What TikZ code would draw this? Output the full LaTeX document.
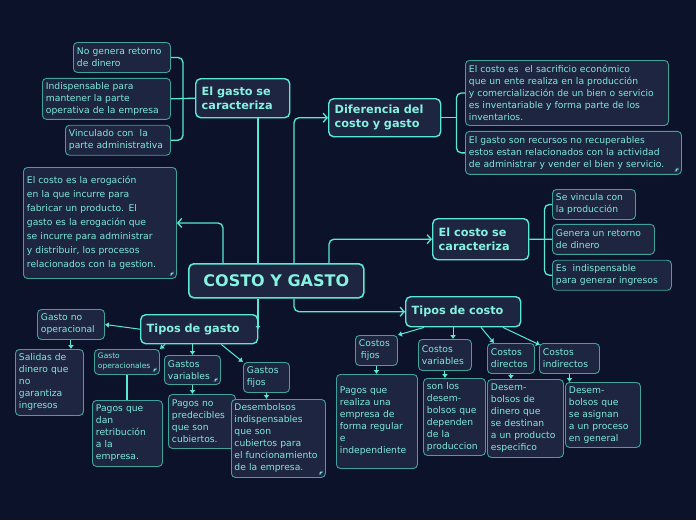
\documentclass[tikz,border=0pt]{standalone}
\usepackage{fontspec}
\setmainfont{DejaVu Sans}
\usetikzlibrary{arrows.meta,positioning,calc}
\definecolor{bgc}{HTML}{0B1229}
\definecolor{nodef}{HTML}{1E2540}
\definecolor{mainb}{HTML}{5CE8D6}
\definecolor{leafb}{HTML}{3FA39C}
\definecolor{txtb}{HTML}{86F2E2}
\definecolor{txt}{HTML}{7FEADC}

\begin{document}
\begin{tikzpicture}[
x=1pt, y=-1pt,
node distance=5pt,
root/.style={
draw=mainb,
line width=1.6pt,
rounded corners=5pt,
fill=nodef,
text=txtb,
font=\fontsize{16}{18}\selectfont\bfseries,
anchor=north west,
minimum width=175pt,
minimum height=34pt
},
topic/.style={
draw=mainb,
line width=1.4pt,
rounded corners=5pt,
fill=nodef,
text=txtb,
font=\fontsize{11.3}{13.8}\selectfont\bfseries,
align=left,
anchor=north west,
inner xsep=6pt
},
leaf/.style={
draw=leafb,
line width=0.9pt,
rounded corners=4pt,
fill=nodef,
text=txt,
font=\fontsize{9.2}{12}\selectfont,
align=left,
anchor=north west,
inner xsep=3.5pt,
inner ysep=2pt
},
grip/.style={
path picture={\fill[txt] ([shift={(-3pt,3pt)}]path picture bounding box.south east)
-- ++(-5pt,0) -- ++(5pt,5pt) -- cycle;}
},
link/.style={draw=mainb, line width=1.3pt, rounded corners=5pt},
arrow/.style={link, -{Straight Barb[length=4pt,width=9pt]}},
subarrow/.style={draw=mainb, line width=1pt, -{Latex[length=4pt,width=6pt]}}
]

\fill[bgc] (0,0) rectangle (696,520);
\useasboundingbox (0,0) rectangle (696,520);

% Centre and main topics
\node[root] (root) at (188,263) {COSTO Y GASTO};

\node[topic, text width=82pt, minimum height=39pt] (gastocar) at (195,78) {El gasto se\\caracteriza};
\node[topic, text width=100pt, minimum height=38pt] (dif) at (328,98) {Diferencia del\\costo y gasto};
\node[topic, text width=84pt, minimum height=41pt] (costocar) at (432,218) {El costo se\\caracteriza};
\node[topic, text width=103pt, minimum height=30pt] (tcosto) at (405,296) {Tipos de costo};
\node[topic, text width=105pt, minimum height=29pt] (tgasto) at (140,314) {Tipos de gasto};

\node[leaf, grip, text width=146pt, minimum height=111pt, font=\fontsize{9.2}{14}\selectfont] (left) at (23,167)
{El costo es la erogación\\en la que incurre para\\fabricar un producto. El\\gasto es la erogación que\\se incurre para administrar\\y distribuir, los procesos\\relacionados con la gestion.};

% El gasto se caracteriza
\node[leaf, text width=90pt, minimum height=30pt] (g1) at (73,42) {No genera retorno\\de dinero};
\node[leaf, text width=121pt, minimum height=41pt, below=of g1.south east, anchor=north east] (g2)
{Indispensable para\\mantener la parte\\operativa de la empresa};
\node[leaf, text width=98pt, minimum height=30pt, below=of g2.south east, anchor=north east] (g3)
{Vinculado con\ \ la\\parte administrativa};

% Diferencia del costo y gasto
\node[leaf, text width=196pt, minimum height=65pt] (d1) at (465,60)
{El costo es\ \ el sacrificio económico\\que un ente realiza en la producción\\y comercialización de un bien o servicio\\es inventariable y forma parte de los\\inventarios.};
\node[leaf, grip, text width=209pt, minimum height=43pt, below=of d1.south west, anchor=north west] (d2)
{El gasto son recursos no recuperables\\estos estan relacionados con la actividad\\de administrar y vender el bien y servicio.};

% El costo se caracteriza
\node[leaf, text width=76pt, minimum height=30pt] (c1) at (552,189) {Se vincula con\\la producción};
\node[leaf, text width=95pt, minimum height=30pt, below=4pt of c1.south west, anchor=north west] (c2)
{Genera un retorno\\de dinero};
\node[leaf, text width=112pt, minimum height=30pt, below=of c2.south west, anchor=north west] (c3)
{Es\ \ indispensable\\para generar ingresos};

% Tipos de gasto
\node[leaf, text width=60pt, minimum height=30pt] (gno) at (37,309) {Gasto no\\operacional};
\node[leaf, text width=61pt, minimum height=66pt] (salidas) at (15,349) {Salidas de\\dinero que\\no\\garantiza\\ingresos};
\node[leaf, grip, text width=58pt, minimum height=25pt, font=\fontsize{7.5}{10}\selectfont] (gop) at (94,349) {Gasto\\operacionales};
\node[leaf, text width=63pt, minimum height=66pt] (pagosdan) at (92,400) {Pagos que\\dan\\retribución\\a la\\empresa.};
\node[leaf, grip, text width=49pt, minimum height=29pt] (gvar) at (164,355) {Gastos\\variables};
\node[leaf, text width=60pt, minimum height=54pt] (pagosno) at (168,394) {Pagos no\\predecibles\\que son\\cubiertos.};
\node[leaf, text width=39pt, minimum height=30pt] (gfijos) at (243,362) {Gastos\\fijos};
\node[leaf, grip, text width=88pt, inner xsep=3pt, minimum height=78pt] (desemb) at (231,399)
{Desembolsos\\indispensables\\que son\\cubiertos para\\el funcionamiento\\de la empresa.};

% Tipos de costo
\node[leaf, text width=35pt, minimum height=30pt] (cfijos) at (355,335) {Costos\\\hspace*{2pt}fijos};
\node[leaf, text width=74pt, minimum height=94pt] (pagosreal) at (336,374) {Pagos que\\realiza una\\empresa de\\forma regular\\e\\independiente};
\node[leaf, text width=46pt, minimum height=31pt] (cvar) at (418,339) {Costos\\variables};
\node[leaf, text width=55pt, minimum height=77pt] (sonlos) at (423,378) {son los\\desem-\\bolsos que\\dependen\\de la\\produccion};
\node[leaf, text width=40pt, minimum height=30pt] (cdir) at (487,343) {Costos\\directos};
\node[leaf, text width=69pt, minimum height=78pt] (desdin) at (487,379) {Desem-\\bolsos de\\dinero que\\se destinan\\a un producto\\especifico};
\node[leaf, text width=53pt, minimum height=30pt] (cind) at (539,343) {Costos\\indirectos};
\node[leaf, text width=68pt, minimum height=65pt] (desasig) at (565,382) {Desem-\\bolsos que\\se asignan\\a un proceso\\en general};

% Connectors from the centre
\coordinate (r1) at ($(root.north west)+(35,0)$);
\coordinate (r2) at ($(root.north west)+(70,0)$);
\coordinate (r3) at ($(root.north west)+(106,0)$);
\coordinate (r4) at ($(root.north west)+(141,0)$);
\coordinate (r5) at ($(root.south west)+(70,0)$);
\coordinate (r6) at ($(root.south west)+(106,0)$);

\draw[link] (r2) -- (r2 |- gastocar.south);
\draw[arrow] (r1) |- (left.east);
\draw[arrow] (r3) |- (dif.west);
\draw[arrow] (r4) |- (costocar.west);
\draw[arrow] (r6) |- (tcosto.west);
\draw[link, -{Latex[length=3pt,width=5pt]}] (r5) -- (r5 |- tgasto.east);

% Brackets
\coordinate (gb) at ($(gastocar.west)+(-12,0)$);
\draw[link] (gastocar.west) -- (g2.east);
\draw[link] (g1.east) -| (gb) |- (g3.east);

\coordinate (db) at ($(dif.east)+(15,0)$);
\draw[link] (dif.east) -- (db);
\draw[link] (d1.west) -| (db) |- (d2.west);

\coordinate (cb) at ($(costocar.east)+(15,0)$);
\draw[link] (costocar.east) -- (c2.west);
\draw[link] (c1.west) -| (cb) |- (c3.west);

% Tipos de gasto
\draw[subarrow] (tgasto.west) -- (gno.east);
\draw[subarrow] ($(tgasto.south west)+(25,0)$) -- (gop.north east);
\draw[subarrow] (tgasto.south -| gvar.north) -- (gvar.north);
\draw[subarrow] ($(tgasto.south)+(22,0)$) -- (gfijos.north west);
\draw[subarrow] (gno.south) -- (gno.south |- salidas.north);
\draw[link] (gop.south) -- (gop.south |- pagosdan.north);
\draw[subarrow] (gvar.south) -- (gvar.south |- pagosno.north);
\draw[subarrow] (gfijos.south) -- (gfijos.south |- desemb.north);

% Tipos de costo
\draw[subarrow] ($(tcosto.south west)+(19,0)$) -- (cfijos.north east);
\draw[subarrow] ($(tcosto.south west)+(48,0)$) -- ($(cvar.north west)+(35,0)$);
\draw[subarrow] ($(tcosto.south west)+(76,0)$) -- ($(cdir.north west)+(7,0)$);
\draw[subarrow] ($(tcosto.south west)+(98,0)$) -- ($(cind.north west)+(1,2)$);
\draw[subarrow] (cfijos.south) -- (cfijos.south |- pagosreal.north);
\draw[subarrow] (cvar.south) -- (cvar.south |- sonlos.north);
\draw[subarrow] (cdir.south) -- (cdir.south |- desdin.north);
\draw[subarrow] (cind.south) -- (cind.south |- desasig.north);

\end{tikzpicture}
\end{document}
